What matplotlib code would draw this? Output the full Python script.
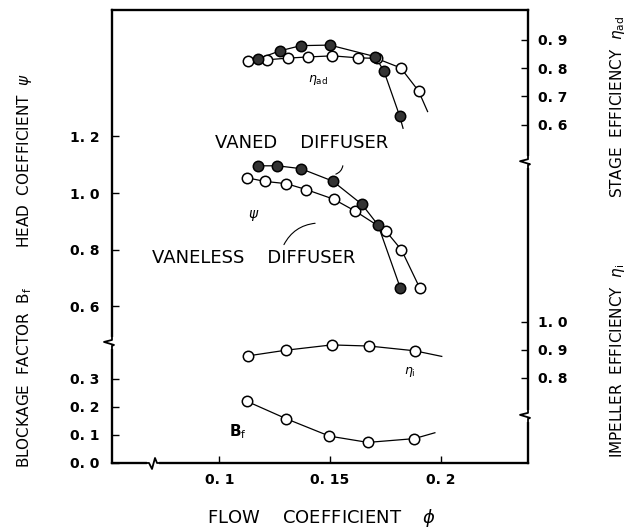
import numpy as np
import matplotlib.pyplot as plt

# stage efficiency eta_ad (open = vaneless, filled = vaned diffuser)
phi_ad_vl = [0.113, 0.1215, 0.131, 0.140, 0.151, 0.1625, 0.171, 0.182, 0.190]
ad_vl = [0.825, 0.829, 0.835, 0.839, 0.843, 0.836, 0.834, 0.800, 0.719]
phi_ad_v = [0.1173, 0.1275, 0.1368, 0.1499, 0.1705, 0.1744, 0.1814]
ad_v = [0.832, 0.861, 0.879, 0.881, 0.840, 0.788, 0.632]

# head coefficient psi
phi_psi_vl = [0.1123, 0.1205, 0.1302, 0.1393, 0.1517, 0.1614, 0.1751, 0.1823, 0.1906]
psi_vl = [1.054, 1.041, 1.033, 1.012, 0.978, 0.936, 0.867, 0.799, 0.664]
phi_psi_v = [0.1173, 0.1262, 0.1368, 0.1512, 0.1644, 0.1717, 0.1818]
psi_v = [1.096, 1.096, 1.086, 1.042, 0.960, 0.887, 0.664]

# impeller efficiency and blockage factor
phi_i = [0.113, 0.1299, 0.1507, 0.1677, 0.1883]
eta_i = [0.879, 0.899, 0.918, 0.914, 0.897]
phi_bf = [0.1125, 0.1302, 0.1497, 0.1671, 0.1881]
bf = [0.220, 0.158, 0.096, 0.0735, 0.087]

# where the faired curves run out past the last point
tail_ad_vl = (0.1941, 0.646)
tail_ad_v = (0.1830, 0.587)
tail_psi_vl = (0.1909, 0.646)
tail_psi_v = (0.1823, 0.646)
tail_i = (0.2005, 0.877)
tail_bf = (0.1974, 0.108)

x_ticks = [0.1, 0.15, 0.2]
x_labels = ['0. 1', '0. 15', '0. 2']
psi_ticks = [0.6, 0.8, 1.0, 1.2]
psi_labels = ['0. 6', '0. 8', '1. 0', '1. 2']
bf_ticks = [0.0, 0.1, 0.2, 0.3]
bf_labels = ['0. 0', '0. 1', '0. 2', '0. 3']
ad_ticks = [0.6, 0.7, 0.8, 0.9]
ad_labels = ['0. 6', '0. 7', '0. 8', '0. 9']
i_ticks = [0.8, 0.9, 1.0]
i_labels = ['0. 8', '0. 9', '1. 0']

plt.rcParams['font.family'] = ['DejaVu Sans']

fig = plt.figure(figsize=(6.37, 5.29), dpi=100)
ax = fig.add_axes([0.1758, 0.1248, 0.6531, 0.8563])
ax_bf = ax.twinx()
ax_ad = ax.twinx()
ax_i = ax.twinx()

ax.set_xlim(0.0514, 0.2395)
ax.set_ylim(0.047, 1.646)
ax_bf.set_ylim(0.0, 1.618)
ax_ad.set_ylim(-0.596, 1.005)
ax_i.set_ylim(0.4964, 2.114)

line_kw = dict(color='black', lw=0.9, zorder=2)
open_kw = dict(ls='none', marker='o', ms=7.5, mfc='white', mec='black', mew=1.1, zorder=3)
fill_kw = dict(ls='none', marker='o', ms=7.5, mfc='#333333', mec='black', mew=1.1, zorder=4)


def curve(a, xs, ys, tail, kw):
    a.plot(list(xs) + [tail[0]], list(ys) + [tail[1]], **line_kw)
    a.plot(xs, ys, **kw)


curve(ax_ad, phi_ad_vl, ad_vl, tail_ad_vl, open_kw)
curve(ax_ad, phi_ad_v, ad_v, tail_ad_v, fill_kw)
curve(ax, phi_psi_vl, psi_vl, tail_psi_vl, open_kw)
curve(ax, phi_psi_v, psi_v, tail_psi_v, fill_kw)
curve(ax_i, phi_i, eta_i, tail_i, open_kw)
curve(ax_bf, phi_bf, bf, tail_bf, open_kw)

# ticks
tick_font = dict(fontsize=10, fontweight='bold')
ax.set_xticks(x_ticks)
ax.set_xticklabels(x_labels, **tick_font)
ax.set_yticks(psi_ticks)
ax.set_yticklabels(psi_labels, **tick_font)
ax_bf.yaxis.tick_left()
ax_bf.set_yticks(bf_ticks)
ax_bf.set_yticklabels(bf_labels, **tick_font)
ax_ad.set_yticks(ad_ticks)
ax_ad.set_yticklabels(ad_labels, **tick_font)
ax_i.set_yticks(i_ticks)
ax_i.set_yticklabels(i_labels, **tick_font)
ax.tick_params(axis='x', direction='in', length=5, width=1, pad=7)
for a in (ax, ax_bf):
    a.tick_params(axis='y', direction='in', length=5, width=1, pad=9)
for a in (ax_ad, ax_i):
    a.tick_params(axis='y', direction='in', length=5, width=1, pad=7)

for a in (ax, ax_bf, ax_ad, ax_i):
    for s in a.spines.values():
        s.set_linewidth(1.5)
for a in (ax_bf, ax_ad, ax_i):
    a.patch.set_visible(False)

# axis breaks (zigzags on the spines)
px_x = 1 / 416.0
px_y = 1 / 453.0


def vbreak(a, xf, yf, side):
    a.plot([xf, xf], [yf - 4 * px_y, yf + 4 * px_y], color='white', lw=3,
           transform=a.transAxes, clip_on=False, zorder=5)
    zx = [xf, xf, xf - side * 8 * px_x, xf + side * 2 * px_x, xf, xf]
    zy = [yf + 8 * px_y, yf + 3 * px_y, yf + 1 * px_y, yf - 2 * px_y, yf - 3 * px_y, yf - 8 * px_y]
    a.plot(zx, zy, color='black', lw=1.3, transform=a.transAxes, clip_on=False, zorder=6)


def hbreak(a, xf, yf):
    a.plot([xf - 4 * px_x, xf + 4 * px_x], [yf, yf], color='white', lw=3,
           transform=a.transAxes, clip_on=False, zorder=5)
    zx = [xf - 9 * px_x, xf - 4 * px_x, xf - 1 * px_x, xf + 2 * px_x, xf + 4 * px_x, xf + 9 * px_x]
    zy = [yf, yf, yf - 6 * px_y, yf + 5 * px_y, yf, yf]
    a.plot(zx, zy, color='black', lw=1.3, transform=a.transAxes, clip_on=False, zorder=6)


vbreak(ax_i, 0.0, 0.265, 1)
vbreak(ax_i, 1.0, 0.664, 1)
vbreak(ax_i, 1.0, 0.104, 1)
hbreak(ax_i, 0.0986, 0.0)

# labels inside the plot
ax_ad.text(0.1445, 0.758, r'$\eta_{\rm ad}$', fontsize=9, ha='center', va='center')
ax_i.text(0.186, 0.821, r'$\eta_{\rm i}$', fontsize=9, ha='center', va='center')
ax_bf.text(0.1082, 0.111, r'B$_{\rm f}$', fontsize=11, fontweight='bold', ha='center', va='center')
ax.text(0.1155, 0.922, r'$\psi$', fontsize=10, ha='center', va='center')
ax.text(0.1373, 1.176, 'VANED    DIFFUSER', fontsize=13, ha='center', va='center')
ax.text(0.1155, 0.771, 'VANELESS    DIFFUSER', fontsize=13, ha='center', va='center')
ax.annotate('', xy=(0.1445, 0.894), xytext=(0.1286, 0.809),
            arrowprops=dict(arrowstyle='-', lw=0.8, connectionstyle='arc3,rad=-0.3'))
ax.annotate('', xy=(0.1559, 1.106), xytext=(0.1514, 1.064),
            arrowprops=dict(arrowstyle='-', lw=0.8, connectionstyle='arc3,rad=0.4'))

# axis titles
lab = dict(fontsize=11, ha='center', va='center', rotation=90)
fig.text(0.039, 0.696, r'HEAD  COEFFICIENT  $\psi$', **lab)
fig.text(0.039, 0.287, r'BLOCKAGE  FACTOR  B$_{\rm f}$', **lab)
fig.text(0.969, 0.798, r'STAGE  EFFICIENCY  $\eta_{\rm ad}$', **lab)
fig.text(0.969, 0.318, r'IMPELLER  EFFICIENCY  $\eta_{\rm i}$', **lab)
fig.text(0.505, 0.021, r'FLOW    COEFFICIENT    $\phi$', fontsize=13, ha='center', va='center')

fig.savefig('out.png', dpi=100)
